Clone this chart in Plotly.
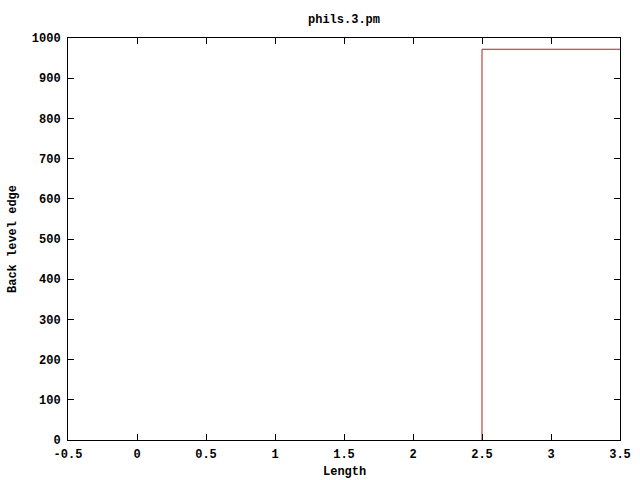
import plotly.graph_objects as go

x_vals = [2.5, 2.5, 3.5]
y_vals = [0, 972, 972]
x_ticks = [-0.5, 0, 0.5, 1, 1.5, 2, 2.5, 3, 3.5]
x_tick_labels = ["-0.5", "0", "0.5", "1", "1.5", "2", "2.5", "3", "3.5"]
y_ticks = [0, 100, 200, 300, 400, 500, 600, 700, 800, 900, 1000]

font = dict(family="Liberation Mono, DejaVu Sans Mono, monospace", size=12, color="black")

L, R, T, B = 68, 20, 38, 40
W, H = 640, 480
pw, ph = W - L - R, H - T - B

fig = go.Figure()
fig.add_trace(go.Scatter(x=x_vals, y=y_vals, mode="lines",
                         line=dict(color="#b81c1c", width=1), showlegend=False))

axis_common = dict(showgrid=False, zeroline=False, showline=True, linecolor="black",
                   linewidth=1, mirror="allticks", ticks="inside", ticklen=6,
                   tickcolor="black", tickfont=font)

fig.update_layout(
    width=W, height=H,
    margin=dict(l=L, r=R, t=T, b=B, autoexpand=False),
    paper_bgcolor="white", plot_bgcolor="white",
    title=dict(text="<b>phils.3.pm</b>", x=(L + pw / 2) / W, xanchor="center",
               y=1 - 19 / H, yanchor="middle", font=font),
    xaxis=dict(range=[-0.5, 3.5], tickvals=x_ticks,
               ticktext=["<b>%s</b>" % t for t in x_tick_labels],
               ticklabelstandoff=3, **axis_common),
    yaxis=dict(range=[0, 1000], tickvals=y_ticks,
               ticktext=["<b>%d</b>" % t for t in y_ticks],
               ticklabelstandoff=4, **axis_common),
    annotations=[
        dict(text="<b>Length</b>", xref="paper", yref="paper", x=0.5,
             y=(H - B - 472) / ph, xanchor="center", yanchor="middle",
             showarrow=False, font=font),
        dict(text="<b>Back level edge</b>", xref="paper", yref="paper",
             x=(13 - L) / pw, y=0.5, xanchor="center", yanchor="middle",
             textangle=-90, showarrow=False, font=font),
    ],
)

fig.write_html("out.html", config={"displayModeBar": False},
               post_script="document.body.style.margin='0';document.body.style.padding='0';")
